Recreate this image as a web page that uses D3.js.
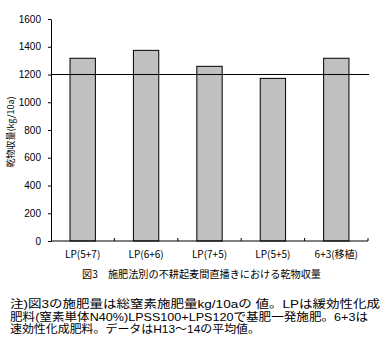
<!DOCTYPE html>
<html>
<head>
<meta charset="utf-8">
<script src="https://cdn.jsdelivr.net/npm/d3@7"></script>
<style>
  body { margin: 0; background: #fff; }
  text { font-family: "Noto Sans CJK JP", sans-serif; fill: #000; }
  .note { font-family: "Liberation Sans", "Noto Sans CJK JP", sans-serif; }
</style>
</head>
<body>
<div id="chart"></div>
<script>
// data
const categories = ['LP(5+7)', 'LP(6+6)', 'LP(7+5)', 'LP(5+5)', '6+3(移植)']
const yields = [1317, 1374, 1259, 1172, 1317]
const yTicks = [0, 200, 400, 600, 800, 1000, 1200, 1400, 1600]
const refValue = 1200
const noteLines = [
	'注)図3の施肥量は総窒素施肥量kg/10aの 値。LPは緩効性化成',
	'肥料(窒素単体N40%)LPSS100+LPS120で基肥一発施肥。6+3は',
	'速効性化成肥料。データはH13～14の平均値。'
]
const noteWidths = [370, 358, 250]

const width = 392
const height = 352
const margin = { top: 19, left: 51, right: 24, bottom: 111 }

const svg = d3.select('#chart')
	.append('svg')
	.attr('width', width)
	.attr('height', height)

const x = d3.scaleBand()
	.domain(categories)
	.range([margin.left, width - margin.right])
	.paddingInner(0.6)
	.paddingOuter(0.3)

const y = d3.scaleLinear()
	.domain([0, 1600])
	.range([height - margin.bottom, margin.top])

// bars
svg.append('g')
	.selectAll('rect')
	.data(yields)
	.join('rect')
	.attr('x', (d, i) => x(categories[i]))
	.attr('y', d => y(d))
	.attr('width', x.bandwidth())
	.attr('height', d => y(0) - y(d))
	.attr('fill', '#c0c0c0')
	.attr('stroke', '#000')
	.attr('stroke-width', 1)

// reference line at 1200
svg.append('line')
	.attr('x1', margin.left)
	.attr('x2', width - margin.right + 1)
	.attr('y1', y(refValue))
	.attr('y2', y(refValue))
	.attr('stroke', '#000')
	.attr('stroke-width', 1)

// y axis
const yAxis = svg.append('g')
	.attr('transform', `translate(${margin.left},0)`)
	.call(d3.axisLeft(y).tickValues(yTicks).tickFormat(d3.format('d')).tickSize(3).tickSizeOuter(0))
yAxis.select('.domain').attr('stroke', '#000')
yAxis.selectAll('text')
	.attr('x', -10)
	.style('font-size', '10px')
	.style('font-family', '"Liberation Sans", sans-serif')

// x axis with ticks between categories
const xAxis = svg.append('g')
const x0 = margin.left
const x1 = width - margin.right
xAxis.append('line')
	.attr('x1', x0).attr('x2', x1)
	.attr('y1', y(0)).attr('y2', y(0))
	.attr('stroke', '#000')
xAxis.selectAll('.tick')
	.data(d3.range(1, categories.length + 1))
	.join('line')
	.attr('x1', i => x0 + (x1 - x0) * i / categories.length)
	.attr('x2', i => x0 + (x1 - x0) * i / categories.length)
	.attr('y1', y(0))
	.attr('y2', y(0) - 3)
	.attr('stroke', '#000')
xAxis.selectAll('.lab')
	.data(categories)
	.join('text')
	.attr('x', d => x(d) + x.bandwidth() / 2)
	.attr('y', y(0) + 17)
	.attr('text-anchor', 'middle')
	.style('font-size', '10px')
	.text(d => d)

// y axis title
svg.append('text')
	.attr('transform', `translate(14,${(y(0) + y(1600)) / 2 + 2}) rotate(-90)`)
	.attr('text-anchor', 'middle')
	.style('font-size', '9px')
	.text('乾物収量(kg/10a)')

// caption
svg.append('text')
	.attr('x', 82)
	.attr('y', 278)
	.attr('textLength', 239)
	.attr('lengthAdjust', 'spacingAndGlyphs')
	.style('font-size', '10.5px')
	.text('図3　施肥法別の不耕起麦間直播きにおける乾物収量')

// note
svg.append('g')
	.selectAll('text')
	.data(noteLines)
	.join('text')
	.attr('class', 'note')
	.attr('x', 10)
	.attr('y', (d, i) => 308 + i * 12.7)
	.attr('textLength', (d, i) => noteWidths[i])
	.attr('lengthAdjust', 'spacingAndGlyphs')
	.style('font-size', '11px')
	.text(d => d)
</script>
</body>
</html>
